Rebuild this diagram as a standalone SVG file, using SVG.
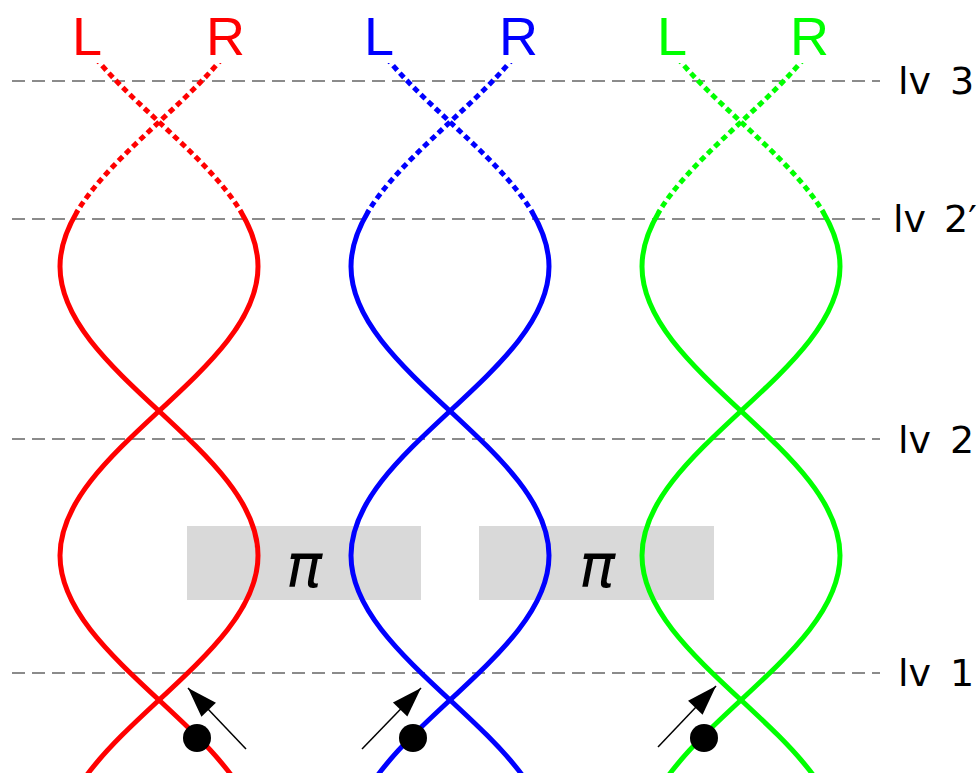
<svg xmlns="http://www.w3.org/2000/svg" xmlns:xlink="http://www.w3.org/1999/xlink" width="978" height="773" viewBox="0 0 978 773">
  <style>
    .level { stroke: #666666; stroke-width: 1.6; stroke-dasharray: 13 7; fill: none; }
    .lvtext { font-family: "DejaVu Sans", sans-serif; font-size: 38px; fill: #000000; }
    .strand-label { font-family: "Liberation Sans", Arial, sans-serif; font-size: 54px; }
    .solid { fill: none; stroke-width: 5; }
    .dotted { fill: none; stroke-width: 5; stroke-dasharray: 6 4; }
    .phase-box { fill: #d9d9d9; }
    .pi { font-family: "DejaVu Sans", sans-serif; font-style: oblique; font-size: 60px; fill: #000000; text-anchor: middle; }
    .red { stroke: #ff0000; fill: #ff0000; }
    .blue { stroke: #0000ff; fill: #0000ff; }
    .green { stroke: #00ff00; fill: #00ff00; }
    .pointer { stroke: #000000; stroke-width: 1.5; fill: none; marker-end: url(#head); }
  </style>
  <defs>
    <!-- two strands of a double helix, centred on x = 0 (x = ±99·sin θ) -->
    <path id="strandA" d="M-99,-22.5 C-99,29.8 -50.72,74.87 0,122 C50.72,169.13 99,214.2 99,266.5 C99,318.8 50.72,363.87 0,411 C-50.72,458.13 -99,503.2 -99,555.5 C-99,607.8 -50.72,652.87 0,700 C50.72,747.13 99,792.2 99,844.5"/>
    <path id="strandB" d="M99,-22.5 C99,29.8 50.72,74.87 0,122 C-50.72,169.13 -99,214.2 -99,266.5 C-99,318.8 -50.72,363.87 0,411 C50.72,458.13 99,503.2 99,555.5 C99,607.8 50.72,652.87 0,700 C-50.72,747.13 -99,792.2 -99,844.5"/>
    <clipPath id="upper"><rect x="-150" y="63" width="300" height="149"/></clipPath>
    <clipPath id="lower"><rect x="-150" y="212" width="300" height="600"/></clipPath>
    <marker id="head" viewBox="-31 -11 32 22" refX="0" refY="0" markerWidth="32" markerHeight="22" markerUnits="userSpaceOnUse" orient="auto">
      <path d="M0,0 L-30,-10 L-30,10 z" fill="#000000"/>
    </marker>
  </defs>

  <rect width="978" height="773" fill="#ffffff"/>

  <!-- phase shift boxes -->
  <g id="phase-1">
    <rect class="phase-box" x="187" y="526" width="234" height="74"/>
    <text class="pi" x="304" y="587">π</text>
  </g>
  <g id="phase-2">
    <rect class="phase-box" x="479" y="526" width="235" height="74"/>
    <text class="pi" x="597" y="587">π</text>
  </g>

  <!-- level lines -->
  <g id="levels">
    <line class="level" x1="12" y1="81" x2="880" y2="81"/>
    <line class="level" x1="12" y1="219" x2="880" y2="219"/>
    <line class="level" x1="12" y1="439" x2="880" y2="439"/>
    <line class="level" x1="12" y1="673" x2="880" y2="673"/>
    <text class="lvtext" x="898" y="94">lv<tspan x="950">3</tspan></text>
    <text class="lvtext" x="893" y="232">lv<tspan x="944">2′</tspan></text>
    <text class="lvtext" x="898" y="453">lv<tspan x="950">2</tspan></text>
    <text class="lvtext" x="898" y="686">lv<tspan x="950">1</tspan></text>
  </g>

  <!-- helices -->
  <g id="helix-red" class="red" transform="translate(159,0)">
    <use xlink:href="#strandA" href="#strandA" class="dotted" clip-path="url(#upper)"/>
    <use xlink:href="#strandB" href="#strandB" class="dotted" clip-path="url(#upper)"/>
    <use xlink:href="#strandA" href="#strandA" class="solid" clip-path="url(#lower)"/>
    <use xlink:href="#strandB" href="#strandB" class="solid" clip-path="url(#lower)"/>
    <text class="strand-label" x="-87" y="55" stroke="none">L</text>
    <text class="strand-label" x="47" y="55" stroke="none">R</text>
  </g>
  <g id="helix-blue" class="blue" transform="translate(450,0)">
    <use xlink:href="#strandA" href="#strandA" class="dotted" clip-path="url(#upper)"/>
    <use xlink:href="#strandB" href="#strandB" class="dotted" clip-path="url(#upper)"/>
    <use xlink:href="#strandA" href="#strandA" class="solid" clip-path="url(#lower)"/>
    <use xlink:href="#strandB" href="#strandB" class="solid" clip-path="url(#lower)"/>
    <text class="strand-label" x="-86" y="55" stroke="none">L</text>
    <text class="strand-label" x="49" y="55" stroke="none">R</text>
  </g>
  <g id="helix-green" class="green" transform="translate(741,0)">
    <use xlink:href="#strandA" href="#strandA" class="dotted" clip-path="url(#upper)"/>
    <use xlink:href="#strandB" href="#strandB" class="dotted" clip-path="url(#upper)"/>
    <use xlink:href="#strandA" href="#strandA" class="solid" clip-path="url(#lower)"/>
    <use xlink:href="#strandB" href="#strandB" class="solid" clip-path="url(#lower)"/>
    <text class="strand-label" x="-84" y="55" stroke="none">L</text>
    <text class="strand-label" x="49" y="55" stroke="none">R</text>
  </g>

  <!-- particles and their direction of travel -->
  <g id="particle-red">
    <circle cx="197" cy="738" r="14" fill="#000000"/>
  </g>
  <g id="particle-blue">
    <circle cx="413" cy="738" r="14" fill="#000000"/>
  </g>
  <g id="particle-green">
    <circle cx="704" cy="738" r="14" fill="#000000"/>
  </g>
  <g id="connectors">
    <line class="pointer" x1="246" y1="749" x2="188" y2="688"/>
    <line class="pointer" x1="362" y1="749" x2="421" y2="688"/>
    <line class="pointer" x1="658" y1="747" x2="716" y2="686"/>
  </g>
</svg>
